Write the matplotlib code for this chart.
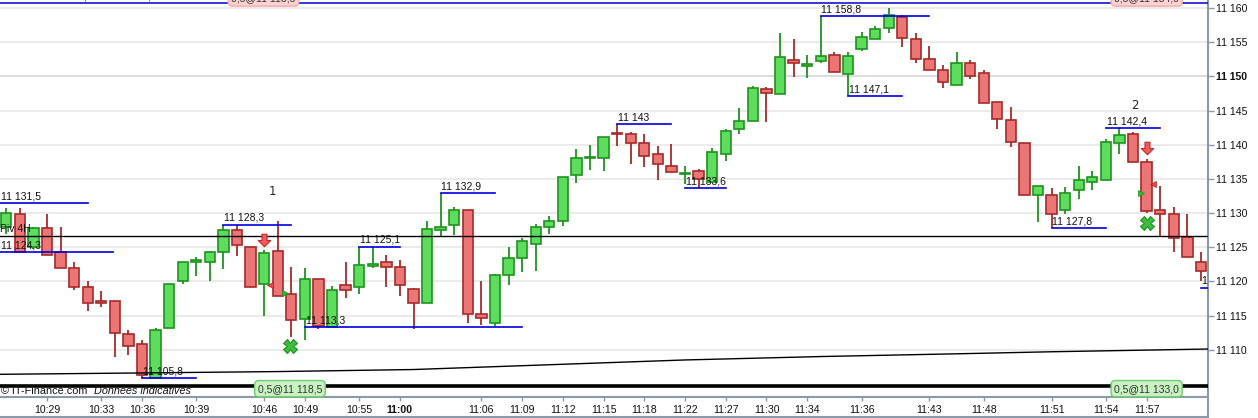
import matplotlib
matplotlib.use("Agg")
import matplotlib.pyplot as plt
from matplotlib.path import Path
from matplotlib.lines import Line2D
from matplotlib.transforms import offset_copy

plt.rcParams["font.family"] = ["Liberation Sans", "DejaVu Sans"]

# Candles (index 0 = first visible bar)
opens = [11127.9, 11129.8, 11125.07, 11127.76, 11124.34, 11121.9, 11119.2, 11117.1, 11117.1, 11112.25,
         11110.8, 11105.9, 11113.2, 11120.0, 11122.9, 11122.9, 11124.34, 11127.5, 11125.0, 11119.6,
         11124.4, 11118.1, 11114.45, 11120.3, 11113.3, 11119.4, 11119.2, 11122.3, 11122.8, 11122.05,
         11118.9, 11116.8, 11127.5, 11128.2, 11130.4, 11115.2, 11113.95, 11121.0, 11123.4, 11125.4,
         11127.9, 11128.8, 11135.5, 11138.0, 11138.0, 11141.6, 11141.56, 11140.2, 11138.7, 11136.9,
         11135.75, 11136.1, 11134.6, 11138.7, 11142.25, 11143.4, 11148.1, 11147.46, 11152.4, 11151.5,
         11152.3, 11153.1, 11150.4, 11153.96, 11155.4, 11157.0, 11158.7, 11155.4, 11152.5, 11151.0,
         11148.8, 11151.9, 11150.45, 11146.2, 11143.6, 11140.2, 11132.6, 11132.7, 11130.5, 11133.3,
         11134.5, 11134.9, 11140.2, 11141.5, 11137.4, 11130.4, 11129.85, 11126.45, 11122.8]
highs = [11130.8, 11130.7, 11127.9, 11129.9, 11128.0, 11122.9, 11120.05, 11118.6, 11117.1, 11112.9,
         11111.4, 11113.2, 11119.6, 11122.8, 11123.6, 11124.4, 11128.3, 11128.3, 11125.0, 11124.6,
         11128.9, 11122.05, 11121.9, 11120.3, 11119.3, 11122.9, 11125.1, 11125.1, 11123.85, 11123.1,
         11119.03, 11128.8, 11132.9, 11130.9, 11130.4, 11120.05, 11121.1, 11125.0, 11126.3, 11128.4,
         11129.55, 11135.2, 11139.4, 11139.95, 11141.1, 11143.0, 11141.85, 11141.6, 11139.8, 11140.05,
         11136.9, 11136.4, 11139.5, 11142.3, 11145.4, 11148.6, 11148.5, 11156.3, 11155.5, 11153.1,
         11158.8, 11153.6, 11153.6, 11156.5, 11157.4, 11160.0, 11159.0, 11156.4, 11154.4, 11151.7,
         11153.5, 11152.4, 11150.9, 11146.2, 11145.56, 11140.2, 11133.95, 11133.6, 11133.8, 11136.9,
         11136.2, 11140.9, 11142.4, 11141.8, 11137.85, 11134.0, 11130.9, 11129.85, 11124.25]
lows = [11127.0, 11124.2, 11124.8, 11123.86, 11121.9, 11118.8, 11115.66, 11116.3, 11109.0, 11109.2,
        11105.8, 11105.8, 11113.2, 11119.6, 11120.8, 11120.0, 11121.8, 11123.75, 11119.2, 11114.97,
        11117.9, 11111.9, 11111.4, 11113.0, 11113.3, 11117.5, 11118.1, 11121.9, 11119.2, 11117.9,
        11113.0, 11116.8, 11126.6, 11126.8, 11113.95, 11113.6, 11113.4, 11119.5, 11121.3, 11121.56,
        11126.97, 11128.1, 11134.4, 11136.3, 11136.2, 11139.85, 11137.1, 11136.8, 11134.8, 11136.05,
        11134.2, 11133.6, 11134.6, 11137.65, 11141.5, 11143.4, 11143.36, 11147.46, 11149.9, 11149.8,
        11151.9, 11150.6, 11147.1, 11153.75, 11155.4, 11156.4, 11154.3, 11151.9, 11150.9, 11148.3,
        11148.8, 11149.65, 11146.05, 11142.3, 11139.7, 11132.7, 11128.7, 11127.8, 11129.8, 11132.0,
        11133.3, 11134.9, 11138.7, 11137.4, 11130.05, 11126.7, 11124.3, 11123.5, 11120.05]
closes = [11130.0, 11124.25, 11127.76, 11123.86, 11122.0, 11119.2, 11116.9, 11116.9, 11112.4, 11110.55,
          11106.3, 11112.9, 11119.6, 11122.8, 11123.1, 11124.25, 11127.5, 11125.3, 11119.2, 11124.1,
          11117.9, 11114.35, 11120.3, 11113.4, 11118.8, 11118.8, 11122.35, 11122.55, 11122.05, 11119.4,
          11116.8, 11127.6, 11127.9, 11130.4, 11115.27, 11114.6, 11120.9, 11123.4, 11125.9, 11127.9,
          11128.8, 11135.2, 11138.0, 11138.1, 11141.1, 11141.5, 11140.2, 11138.4, 11137.1, 11136.05,
          11135.9, 11135.0, 11139.0, 11141.95, 11143.4, 11148.25, 11147.5, 11152.9, 11151.9, 11151.8,
          11153.0, 11150.6, 11152.98, 11155.7, 11156.9, 11158.98, 11155.6, 11152.6, 11150.9, 11149.1,
          11151.9, 11150.0, 11146.05, 11143.75, 11140.35, 11132.7, 11133.95, 11129.8, 11133.0, 11134.9,
          11135.3, 11140.35, 11141.4, 11137.4, 11130.3, 11129.9, 11126.3, 11123.5, 11121.5]

# Moving average (read at a few bars, both chart edges included)
ma_idx = [-0.46, 10, 20, 30, 40, 50, 60, 70, 77, 88.52]
ma_val = [11106.4, 11106.6, 11106.8, 11107.1, 11107.8, 11108.5, 11109.0, 11109.4, 11109.7, 11110.1]

# Swing levels: start bar, end bar, price, label
lvl_start = [-0.46, -0.46, 16, 10, 22, 26, 32, 45, 50, 60, 62, 77, 81, 88]
lvl_end = [6, 7.9, 21, 14, 38, 29, 36, 49, 53, 68, 66, 81, 85, 88.6]
lvl_price = [11131.4, 11124.3, 11128.3, 11105.8, 11113.3, 11125.1, 11132.9, 11143.0, 11133.6,
             11158.8, 11147.1, 11127.8, 11142.4, 11119.1]
lvl_label = ["11 131,5", "11 124,3", "11 128,3", "11 105,8", "11 113,3", "11 125,1", "11 132,9",
             "11 143", "11 133,6", "11 158,8", "11 147,1", "11 127,8", "11 142,4", "11 119,1"]

pivot = 11126.64
top_level = 11160.7
bottom_bar = 11104.76

# Signals
sell_idx = [19, 84]
sell_price = [11126.05, 11139.5]
tri_l_idx = [19.43, 84.47]
tri_l_price = [11119.5, 11134.25]
tri_r_idx = [20.5, 83.55]
tri_r_price = [11118.3, 11132.97]
cross_idx = [20.94, 84]
cross_price = [11110.5, 11128.6]
sig_num = ["1", "2"]
sig_num_idx = [19.6, 83.1]
sig_num_price = [11133.1, 11145.7]
box_idx = [20.9, 84]
box_text = ["0,5@11 118,5", "0,5@11 133,0"]
top_box_idx = [18.95, 84]
top_box_text = ["0,5@11 118,5", "0,5@11 134,0"]

# Axis ticks
yticks = [11110, 11115, 11120, 11125, 11130, 11135, 11140, 11145, 11150, 11155, 11160]
xtick_idx = [3, 7, 10, 14, 19, 22, 26, 29, 35, 38, 41, 44, 47, 50, 53, 56, 59, 63, 68, 72, 77, 81, 84]
xtick_lbl = ["10:29", "10:33", "10:36", "10:39", "10:46", "10:49", "10:55", "11:00", "11:06", "11:09",
             "11:12", "11:15", "11:18", "11:22", "11:27", "11:30", "11:34", "11:36", "11:43", "11:48",
             "11:51", "11:54", "11:57"]

GREEN_FILL, GREEN_EDGE = "#5ddc5d", "#1e941e"
RED_FILL, RED_EDGE = "#ec7676", "#a82a2a"
AXIS_GRAY = "#8c99a6"

fig = plt.figure(figsize=(12.58, 4.18), dpi=100)
ax = fig.add_axes([0, 21 / 418, 1208 / 1258, 397 / 418])

# Grid
for v in yticks:
    ax.axhline(v, color="#d2d2d2" if v == 11150 else "#e6e6e6", lw=1.1, zorder=0)

# Candles
n = len(opens)
xs = list(range(n))
up = [c >= o for o, c in zip(opens, closes)]
edge = [GREEN_EDGE if u else RED_EDGE for u in up]
fill = [GREEN_FILL if u else RED_FILL for u in up]
ax.vlines(xs, lows, highs, colors=edge, lw=1.3, zorder=2)
heights = [max(abs(c - o), 0.15) for o, c in zip(opens, closes)]
bottoms = [min(o, c) for o, c in zip(opens, closes)]
ax.bar(xs, heights, bottom=bottoms, width=0.76, color=fill, edgecolor=edge, linewidth=1.2, zorder=3)

# Pivot, MA, bottom line, top level
ax.axhline(pivot, color="black", lw=1.0, zorder=4)
ax.text(-0.45, pivot + 0.25, "Piv 4H", fontsize=7.5, va="bottom", ha="left", color="#111", zorder=5)
ax.plot(ma_idx, ma_val, color="black", lw=1.0, zorder=4)
ax.axhline(bottom_bar, color="black", lw=2.6, zorder=4)
ax.axhline(top_level, color="#0000d0", lw=1.1, zorder=4)

# Swing levels
lbl_trans = offset_copy(ax.transData, fig=fig, x=0.5, y=1.2, units="points")
for s, e, p, lab in zip(lvl_start, lvl_end, lvl_price, lvl_label):
    ax.plot([s, e], [p, p], color="#0000e0", lw=1.2, zorder=5)
    ax.text(s, p, lab, transform=lbl_trans, fontsize=7.5, color="#111",
            va="bottom", ha="left", zorder=6, clip_on=True)

# Signal markers
arrow = Path([(-0.2, 0.5), (0.2, 0.5), (0.2, 0.0), (0.5, 0.0), (0.0, -0.5),
              (-0.5, 0.0), (-0.2, 0.0), (-0.2, 0.5)], closed=True)
ax.plot(sell_idx, sell_price, ls="none", marker=arrow, markersize=9,
        mfc="#f05a5a", mec="#c02a2a", mew=0.8, zorder=7)
ax.plot(tri_l_idx, tri_l_price, ls="none", marker="<", markersize=5,
        mfc="#e84848", mec="#b02020", mew=0.5, zorder=7)
ax.plot(tri_r_idx, tri_r_price, ls="none", marker=">", markersize=5,
        mfc="#2fbb2f", mec="#1e8e1e", mew=0.5, zorder=7)
ax.plot(cross_idx, cross_price, ls="none", marker="X", markersize=9.5,
        mfc="#3cbf3c", mec="#1f8f1f", mew=0.8, zorder=7)
for i, p, t in zip(sig_num_idx, sig_num_price, sig_num):
    ax.text(i, p, t, fontsize=8.5, family="DejaVu Sans", color="#222", ha="center", va="center")

# Position boxes
for i, t in zip(box_idx, box_text):
    ax.text(i, 0.021, t, transform=ax.get_xaxis_transform(), fontsize=7.5, color="#333",
            ha="center", va="center", zorder=8,
            bbox=dict(boxstyle="round,pad=0.3,rounding_size=0.4", fc="#c8f2c0", ec="#70cc70", lw=1))
for i, t in zip(top_box_idx, top_box_text):
    ax.text(i, 1.005, t, transform=ax.get_xaxis_transform(), fontsize=7.5, color="#333",
            ha="center", va="center", zorder=8, clip_on=True,
            bbox=dict(boxstyle="round,pad=0.3,rounding_size=0.4", fc="#ffd2d2", ec="#ffa8a8", lw=1))
ax.text(0.001, 1.01, "Ibex 1 Tick 11 111,0 - 20:15 150,0", transform=ax.transAxes, fontsize=7.5,
        color="#111", ha="left", va="center", clip_on=True)

# Copyright
ax.text(0.001, 0.014, "\u00a9 IT-Finance.com", transform=ax.transAxes, fontsize=7.8,
        color="#111", ha="left", va="center", zorder=8)
ax.text(0.0775, 0.014, "Donn\u00e9es indicatives", transform=ax.transAxes, fontsize=7.8,
        style="italic", color="#111", ha="left", va="center", zorder=8)

# Axes
ax.set_xlim(-0.457, 88.52)
ax.set_ylim(11103.08, 11161.17)
ax.yaxis.tick_right()
ax.set_yticks(yticks)
ax.set_yticklabels([f"{v // 1000} {v % 1000:03d}" for v in yticks])
for lbl, v in zip(ax.get_yticklabels(), yticks):
    if v == 11150:
        lbl.set_fontweight("bold")
        lbl.set_fontsize(8.8)
ax.set_xticks(xtick_idx)
ax.set_xticklabels(xtick_lbl)
for lbl in ax.get_xticklabels():
    if lbl.get_text() == "11:00":
        lbl.set_fontweight("bold")
        lbl.set_fontsize(8.3)
ax.tick_params(axis="y", labelsize=7.6, length=4, width=1, color=AXIS_GRAY, pad=2, labelcolor="#111")
ax.tick_params(axis="x", labelsize=7.6, length=3, width=1, color=AXIS_GRAY, pad=2.5, labelcolor="#111")
for side in ["left", "top"]:
    ax.spines[side].set_visible(False)
for side in ["right", "bottom"]:
    ax.spines[side].set_color(AXIS_GRAY)
    ax.spines[side].set_linewidth(1.5)

fig.add_artist(Line2D([0, 1208 / 1258], [1.5 / 418, 1.5 / 418], color=AXIS_GRAY, lw=1.5))
fig.add_artist(Line2D([1208 / 1258, 1208 / 1258], [0, 21 / 418], color=AXIS_GRAY, lw=1.5))

fig.savefig("out.png", dpi=100)
